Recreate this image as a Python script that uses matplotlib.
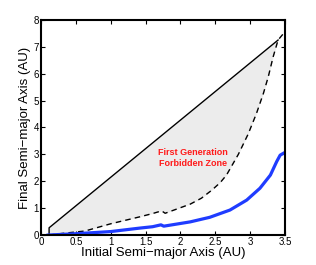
import numpy as np
import matplotlib
matplotlib.use("Agg")
import matplotlib.pyplot as plt

plt.rcParams['font.family'] = ['Liberation Sans', 'DejaVu Sans']

# upper bound (solid line)
solid_x = [0.115, 0.115, 3.40]
solid_y = [0.0, 0.27, 7.25]

# lower bound of forbidden zone (dashed)
dash_x = [0.115, 0.3, 0.63, 1.0, 1.42, 1.6, 1.73, 1.78, 2.14, 2.3, 2.45, 2.57,
          2.66, 2.83, 2.97, 3.09, 3.19, 3.26, 3.33, 3.40, 3.48]
dash_y = [0.0, 0.06, 0.15, 0.42, 0.68, 0.80, 0.90, 0.81, 1.15, 1.37, 1.67, 1.95,
          2.23, 3.0, 3.75, 4.52, 5.27, 5.89, 6.63, 7.25, 7.5]

# blue curve
blue_x = [0.1, 0.5, 1.0, 1.42, 1.6, 1.72, 1.76, 2.14, 2.42, 2.71, 2.95, 3.14,
          3.29, 3.38, 3.43, 3.49, 3.5]
blue_y = [0.0, 0.05, 0.13, 0.26, 0.31, 0.38, 0.33, 0.49, 0.66, 0.93, 1.30, 1.74,
          2.23, 2.73, 2.97, 3.06, 3.06]

xticks = [0, 0.5, 1, 1.5, 2, 2.5, 3, 3.5]
xticklabels = ['0', '0.5', '1', '1.5', '2', '2.5', '3', '3.5']
yticks = [0, 1, 2, 3, 4, 5, 6, 7, 8]

fig = plt.figure(figsize=(3.16, 2.65), dpi=100)
ax = fig.add_axes([0.130, 0.113, 0.772, 0.812])

dx = np.array(dash_x)
dy = np.array(dash_y)
top = np.interp(dx, solid_x[1:], solid_y[1:])
ax.fill_between(dx, dy, top, where=dy <= top + 1e-9, interpolate=True,
                color='#ececec', linewidth=0)

ax.plot(solid_x, solid_y, color='black', lw=1.0)
ax.plot(dash_x, dash_y, color='black', lw=1.0, ls=(0, (4, 3)))
ax.plot(blue_x, blue_y, color='#1f3cff', lw=2.3)

ax.text(2.18, 2.87, 'First Generation\nForbidden Zone', color='#ff1a1a',
        fontsize=6.5, fontweight='bold', ha='center', va='center', linespacing=1.3)

ax.set_xlim(0, 3.5)
ax.set_ylim(0, 8)
ax.set_xticks(xticks)
ax.set_xticklabels(xticklabels)
ax.set_yticks(yticks)
ax.tick_params(direction='in', top=True, right=True, labelsize=7, length=3, width=0.8, pad=1.5)
for s in ax.spines.values():
    s.set_linewidth(1.5)

ax.set_xlabel('Initial Semi\u2212major Axis (AU)', fontsize=9.5, labelpad=0)
ax.set_ylabel('Final Semi\u2212major Axis (AU)', fontsize=9.5, labelpad=2)

fig.savefig('out.png', dpi=100)
